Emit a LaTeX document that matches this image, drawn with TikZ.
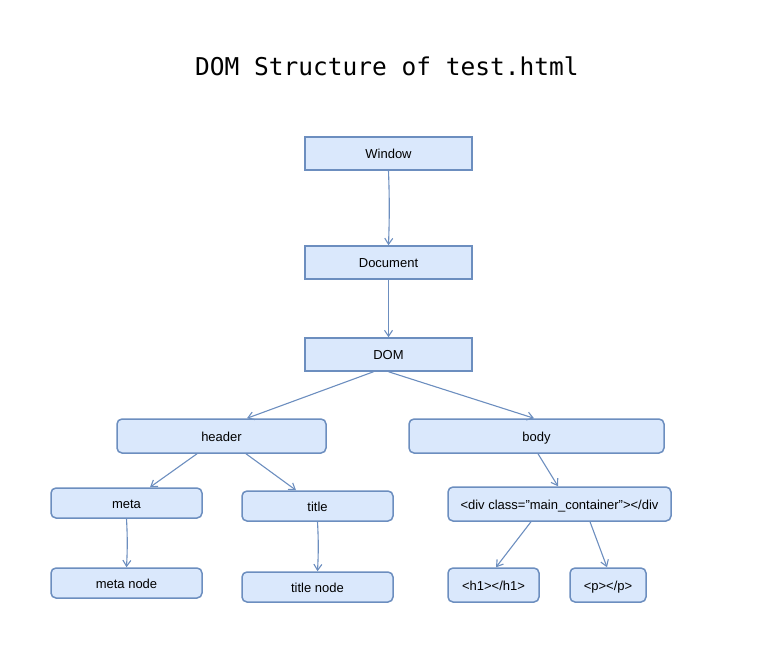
\documentclass[tikz,border=0pt]{standalone}
\usepackage{fontspec}
\setmainfont{Liberation Sans}
\newfontfamily\titlefont{DejaVu Sans Mono}
\usetikzlibrary{arrows.meta}
\definecolor{boxfill}{HTML}{DAE8FC}
\definecolor{boxline}{HTML}{6C8EBF}
\begin{document}
\begin{tikzpicture}[x=1pt,y=-1pt,
  sq/.style={draw=boxline,fill=boxfill,line width=1.5pt,inner sep=0pt,text height=10.5pt,text depth=0pt,font=\fontsize{13}{15}\selectfont,text=black},
  rd/.style={sq,rounded corners=5pt},
  conn/.style={draw=boxline,line width=1.1pt,-{Straight Barb[length=6pt,width=8pt,line width=1.1pt]}}]
\useasboundingbox (0,0) rectangle (765,646);
\node (ttl) at (387,66) {\titlefont\fontsize{24.5}{28}\selectfont DOM Structure of test.html};
\node[sq,minimum width=167pt,minimum height=33pt] (win) at (388.5,153.5) {Window};
\node[sq,minimum width=167pt,minimum height=33pt] (doc) at (388.5,262.5) {Document};
\node[sq,minimum width=167pt,minimum height=33pt] (dom) at (388.5,354.5) {DOM};
\node[rd,minimum width=209pt,minimum height=34pt] (header) at (221.5,436) {header};
\node[rd,minimum width=255pt,minimum height=34pt] (body) at (536.5,436) {body};
\node[rd,minimum width=151pt,minimum height=30pt] (meta) at (126.5,503) {meta};
\node[rd,minimum width=151pt,minimum height=30pt] (title) at (317.5,506) {title};
\node[rd,minimum width=223pt,minimum height=34pt] (div) at (559.5,504) {<div class="main\_container"></div};
\node[rd,minimum width=151pt,minimum height=30pt] (metanode) at (126.5,583) {meta node};
\node[rd,minimum width=151pt,minimum height=30pt] (titlenode) at (317.5,587) {title node};
\node[rd,minimum width=91pt,minimum height=34pt] (h1) at (493.5,585) {<h1></h1>};
\node[rd,minimum width=76pt,minimum height=34pt] (p) at (608,585) {<p></p>};
\draw[conn] (win.south) to[bend left=2] (doc.north);
\draw[conn] (doc.south) -- (dom.north);
\draw[conn] ([xshift=-15pt]dom.south) -- ([xshift=25.5pt]header.north);
\draw[conn] (dom.south) -- ([xshift=-2.5pt]body.north);
\draw[conn] ([xshift=-24.5pt]header.south) -- ([xshift=23.5pt]meta.north);
\draw[conn] ([xshift=24.5pt]header.south) -- ([xshift=-21.5pt]title.north);
\draw[conn] ([xshift=1.5pt]body.south) -- ([xshift=-1.5pt]div.north);
\draw[conn] (meta.south) to[bend left=3] (metanode.north);
\draw[conn] (title.south) to[bend left=3] (titlenode.north);
\draw[conn] ([xshift=-28.5pt]div.south) -- ([xshift=2.5pt]h1.north);
\draw[conn] ([xshift=30.5pt]div.south) -- ([xshift=-1pt]p.north);
\end{tikzpicture}
\end{document}
